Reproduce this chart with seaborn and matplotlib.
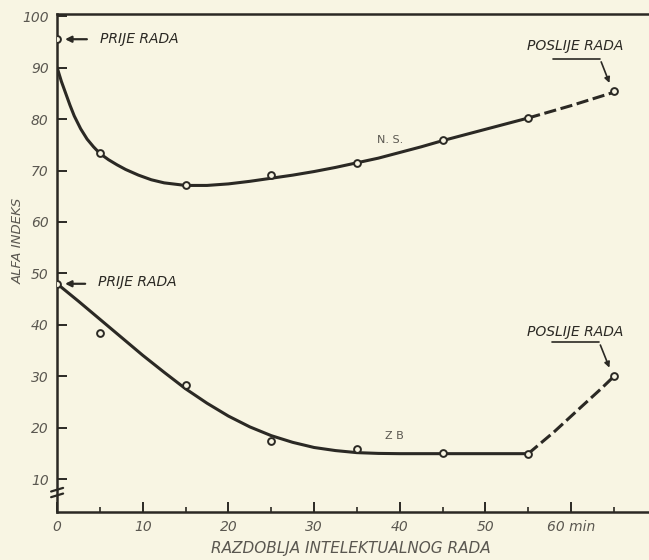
import matplotlib
matplotlib.use("Agg")
import matplotlib.pyplot as plt
import seaborn as sns
import pandas as pd

# measured points (minutes, alfa index)
ns_x = [0, 5, 15, 25, 35, 45, 55, 65]
ns_y = [95.5, 73.4, 67.2, 69.2, 71.5, 76.0, 80.2, 85.4]
zb_x = [0, 5, 15, 25, 35, 45, 55, 65]
zb_y = [48.0, 38.4, 28.3, 17.5, 16.0, 15.2, 15.0, 30.0]

# hand drawn curves
ns_curve_x = [0, 0.5, 1, 1.5, 2, 2.75, 3.5, 4.25, 5, 6, 7, 8, 9.5, 11, 12.5, 15, 17.5, 20, 22.5,
              25, 27.5, 30, 32.5, 35, 37.5, 40, 42.5, 45, 47.5, 50, 52.5, 55]
ns_curve_y = [90, 87.3, 85, 82.7, 80.6, 78.1, 76.1, 74.6, 73.3, 72.1, 71.1, 70.2, 69.1, 68.2,
              67.6, 67.1, 67.1, 67.4, 67.9, 68.5, 69.1, 69.8, 70.6, 71.5, 72.4, 73.5, 74.6,
              75.8, 76.9, 78.0, 79.1, 80.2]
ns_dash_x = [55, 60, 65]
ns_dash_y = [80.2, 82.6, 85.2]

zb_curve_x = [0, 2.5, 5, 7.5, 10, 12.5, 15, 17.5, 20, 22.5, 25, 27.5, 30, 32.5, 35, 37.5,
              40, 45, 50, 55]
zb_curve_y = [48, 44.6, 41.1, 37.6, 34.1, 30.8, 27.6, 24.8, 22.3, 20.2, 18.5, 17.2, 16.2,
              15.6, 15.2, 15.05, 15, 15, 15, 15]
zb_dash_x = [55, 58, 61, 63.5, 65]
zb_dash_y = [15, 19.2, 23.8, 27.6, 30]

x_ticks = [0, 10, 20, 30, 40, 50, 60]
x_tick_labels = ["0", "10", "20", "30", "40", "50", "60 min"]
y_ticks = [10, 20, 30, 40, 50, 60, 70, 80, 90, 100]

paper = "#f8f5e3"
ink = "#2b2924"
grey = "#5a5750"

sns.set_style("ticks")
plt.rcParams["font.family"] = ["DejaVu Sans"]
plt.rcParams["font.style"] = "italic"

fig = plt.figure(figsize=(6.49, 5.6), dpi=100, facecolor=paper)
ax = fig.add_axes([0.088, 0.086, 0.912, 0.889])
ax.set_facecolor(paper)

lw = 2.2
sns.lineplot(x=ns_curve_x, y=ns_curve_y, ax=ax, color=ink, lw=lw, sort=False, estimator=None)
sns.lineplot(x=ns_dash_x, y=ns_dash_y, ax=ax, color=ink, lw=lw, sort=False, estimator=None,
             linestyle=(0, (4, 1.5)))
sns.lineplot(x=zb_curve_x, y=zb_curve_y, ax=ax, color=ink, lw=lw, sort=False, estimator=None)
sns.lineplot(x=zb_dash_x, y=zb_dash_y, ax=ax, color=ink, lw=lw, sort=False, estimator=None,
             linestyle=(0, (4, 1.5)))

pts = pd.DataFrame({"x": ns_x + zb_x, "y": ns_y + zb_y})
sns.scatterplot(data=pts, x="x", y="y", ax=ax, s=24, facecolor=paper,
                edgecolor=ink, linewidth=1.4, zorder=5)

ax.set_xlim(0, 69.1)
ax.set_ylim(3.7, 100.4)

# spines: left, bottom and top, no right
ax.spines["right"].set_visible(False)
for s in ["left", "bottom", "top"]:
    ax.spines[s].set_color(ink)
    ax.spines[s].set_linewidth(1.8)

ax.set_xticks(x_ticks)
ax.set_xticklabels(x_tick_labels)
ax.set_xticks([5, 15, 25, 35, 45, 55, 65], minor=True)
ax.set_yticks(y_ticks)
ax.tick_params(axis="both", direction="in", length=7, width=1.4, color=ink,
               labelsize=10, labelcolor=grey, pad=6)
ax.tick_params(axis="x", which="minor", direction="in", length=3.5, width=1.2, color=ink)
ax.tick_params(top=False, right=False)

ax.set_xlabel("")
ax.set_ylabel("")
fig.text(0.54, 0.021, "RAZDOBLJA INTELEKTUALNOG RADA", fontsize=11, color=grey,
         ha="center", va="center")
fig.text(0.028, 0.57, "ALFA INDEKS", fontsize=9.5, color=grey, rotation=90,
         ha="center", va="center")

# axis break mark
for yb in [6.9, 8.0]:
    ax.plot([-0.7, 0.7], [yb - 0.35, yb + 0.35], color=ink, lw=1.6, clip_on=False, zorder=6)

# annotations
arrow = dict(arrowstyle="-|>", color=ink, lw=1.6, mutation_scale=9)
ax.annotate("", xy=(0.6, 95.5), xytext=(3.8, 95.5), arrowprops=arrow)
ax.text(5.0, 95.6, "PRIJE RADA", fontsize=10, color=ink, va="center", ha="left")
ax.annotate("", xy=(0.6, 48.0), xytext=(3.6, 48.0), arrowprops=arrow)
ax.text(4.8, 48.4, "PRIJE RADA", fontsize=10, color=ink, va="center", ha="left")

ax.text(60.5, 94.2, "POSLIJE RADA", fontsize=10, color=ink, va="center", ha="center")
ax.plot([57.9, 63.4], [91.6, 91.6], color=ink, lw=1.2)
ax.annotate("", xy=(64.6, 86.5), xytext=(63.4, 91.6),
            arrowprops=dict(arrowstyle="-|>", color=ink, lw=1.2, mutation_scale=8))

ax.text(60.5, 38.6, "POSLIJE RADA", fontsize=10, color=ink, va="center", ha="center")
ax.plot([57.8, 63.3], [36.6, 36.6], color=ink, lw=1.2)
ax.annotate("", xy=(64.6, 31.2), xytext=(63.3, 36.6),
            arrowprops=dict(arrowstyle="-|>", color=ink, lw=1.2, mutation_scale=8))

ax.text(38.9, 75.9, "N. S.", fontsize=8, color=grey, ha="center", va="center", style="normal")
ax.text(39.4, 18.4, "Z B", fontsize=8, color=grey, ha="center", va="center", style="normal")

fig.savefig("out.png", dpi=100, facecolor=paper)
